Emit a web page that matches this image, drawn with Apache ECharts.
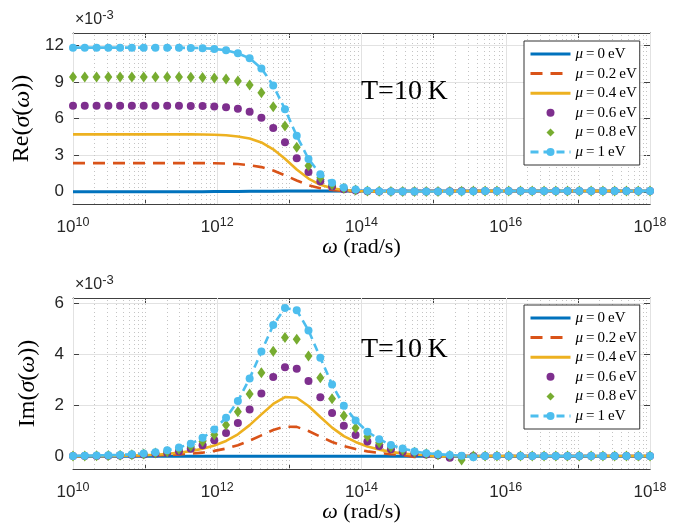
<!DOCTYPE html>
<html><head><meta charset="utf-8">
<script src="https://cdn.jsdelivr.net/npm/echarts@6/dist/echarts.min.js"></script>
<style>html,body{margin:0;padding:0;background:#fff}#c{width:695px;height:531px}</style>
</head><body><div id="c"></div>
<script>
// frequency samples: exponents of omega (rad/s)
const omegaExp = [
10.000,10.163,10.327,10.490,10.653,10.816,10.980,11.143,11.306,11.469,
11.633,11.796,11.959,12.122,12.286,12.449,12.612,12.776,12.939,13.102,
13.265,13.429,13.592,13.755,13.918,14.082,14.245,14.408,14.571,14.735,
14.898,15.061,15.224,15.388,15.551,15.714,15.878,16.041,16.204,16.367,
16.531,16.694,16.857,17.020,17.184,17.347,17.510,17.673,17.837,18.000];

const muLabels = ['μ=0 eV','μ=0.2 eV','μ=0.4 eV','μ=0.6 eV','μ=0.8 eV','μ=1 eV'];

// Re(sigma) x 1e-3
const reMu0 = [
0.01,0.01,0.01,0.01,0.01,0.01,0.01,0.01,0.01,0.01,
0.01,0.01,0.02,0.02,0.03,0.04,0.05,0.05,0.06,0.06,
0.06,0.06,0.06,0.06,0.06,0.06,0.06,0.06,0.06,0.06,
0.06,0.06,0.06,0.06,0.06,0.06,0.06,0.06,0.06,0.06,
0.06,0.06,0.06,0.06,0.06,0.06,0.06,0.06,0.06,0.06];
const reMu02 = [
2.35,2.35,2.35,2.35,2.35,2.35,2.35,2.35,2.35,2.35,
2.35,2.35,2.34,2.31,2.27,2.18,2.02,1.74,1.35,0.92,
0.54,0.29,0.15,0.07,0.04,0.02,0.01,0.01,0.02,0.04,
0.06,0.06,0.06,0.06,0.06,0.06,0.06,0.06,0.06,0.06,
0.06,0.06,0.06,0.06,0.06,0.06,0.06,0.06,0.06,0.06];
const reMu04 = [
4.70,4.70,4.70,4.70,4.70,4.70,4.70,4.70,4.70,4.70,
4.70,4.69,4.67,4.63,4.53,4.37,4.04,3.48,2.70,1.83,
1.08,0.57,0.29,0.15,0.07,0.04,0.02,0.02,0.01,0.01,
0.02,0.04,0.06,0.06,0.06,0.06,0.06,0.06,0.06,0.06,
0.06,0.06,0.06,0.06,0.06,0.06,0.06,0.06,0.06,0.06];
const reMu06 = [
7.05,7.05,7.05,7.05,7.05,7.05,7.05,7.05,7.04,7.04,
7.03,7.02,6.99,6.93,6.80,6.56,6.06,5.23,4.06,2.74,
1.61,0.86,0.44,0.21,0.11,0.05,0.03,0.02,0.02,0.02,
0.02,0.02,0.04,0.06,0.06,0.06,0.06,0.06,0.06,0.06,
0.06,0.06,0.06,0.06,0.06,0.06,0.06,0.06,0.06,0.06];
const reMu08 = [
9.40,9.40,9.40,9.40,9.40,9.40,9.40,9.40,9.39,9.39,
9.38,9.36,9.32,9.24,9.06,8.75,8.10,6.96,5.38,3.65,
2.14,1.14,0.58,0.29,0.14,0.07,0.04,0.03,0.02,0.02,
0.02,0.02,0.02,0.04,0.06,0.06,0.06,0.06,0.06,0.06,
0.06,0.06,0.06,0.06,0.06,0.06,0.06,0.06,0.06,0.06];
const reMu1 = [
11.80,11.80,11.80,11.80,11.80,11.80,11.80,11.80,11.79,11.79,
11.78,11.76,11.70,11.58,11.34,10.93,10.10,8.70,6.76,4.58,
2.69,1.43,0.73,0.36,0.18,0.09,0.05,0.03,0.02,0.02,
0.02,0.02,0.02,0.02,0.04,0.06,0.06,0.06,0.06,0.06,
0.06,0.06,0.06,0.06,0.06,0.06,0.06,0.06,0.06,0.06];

// Im(sigma) x 1e-3
const imMu0 = [
0.00,0.00,0.00,0.00,0.00,0.00,0.00,0.00,0.00,0.00,
0.00,0.00,0.00,0.00,0.00,0.00,0.00,0.00,0.00,0.00,
0.00,0.00,0.00,0.00,0.00,0.00,0.00,0.00,0.00,0.00,
0.00,0.00,0.00,0.00,0.00,0.00,0.00,0.00,0.00,0.00,
0.00,0.00,0.00,0.00,0.00,0.00,0.00,0.00,0.00,0.00];
const imMu02 = [
0.00,0.00,0.01,0.01,0.01,0.01,0.02,0.03,0.05,0.07,
0.10,0.14,0.21,0.30,0.43,0.61,0.82,1.03,1.16,1.15,
0.99,0.77,0.56,0.40,0.28,0.19,0.13,0.08,0.05,-0.03,
0.01,0.01,0.01,0.01,0.01,0.01,0.01,0.01,0.01,0.01,
0.01,0.01,0.01,0.01,0.01,0.01,0.01,0.01,0.01,0.01];
const imMu04 = [
0.00,0.01,0.01,0.01,0.02,0.03,0.04,0.06,0.09,0.14,
0.20,0.29,0.42,0.60,0.86,1.22,1.64,2.05,2.32,2.29,
1.97,1.54,1.12,0.79,0.56,0.38,0.26,0.17,0.11,0.07,
0.04,-0.03,0.01,0.01,0.01,0.01,0.01,0.01,0.01,0.01,
0.01,0.01,0.01,0.01,0.01,0.01,0.01,0.01,0.01,0.01];
const imMu06 = [
0.01,0.01,0.01,0.02,0.03,0.05,0.07,0.10,0.14,0.20,
0.29,0.43,0.63,0.91,1.30,1.83,2.46,3.10,3.49,3.43,
2.95,2.31,1.69,1.19,0.83,0.58,0.40,0.27,0.18,0.12,
0.07,0.04,-0.06,0.01,0.01,0.01,0.01,0.01,0.01,0.01,
0.01,0.01,0.01,0.01,0.01,0.01,0.01,0.01,0.01,0.01];
const imMu08 = [
0.01,0.01,0.02,0.03,0.04,0.06,0.09,0.13,0.18,0.27,
0.39,0.58,0.84,1.22,1.74,2.44,3.27,4.11,4.65,4.58,
3.93,3.08,2.25,1.59,1.11,0.77,0.53,0.36,0.24,0.16,
0.10,0.06,0.03,-0.15,0.01,0.01,0.01,0.01,0.01,0.01,
0.01,0.01,0.01,0.01,0.01,0.01,0.01,0.01,0.01,0.01];
const imMu1 = [
0.01,0.02,0.03,0.04,0.05,0.08,0.11,0.16,0.23,0.34,
0.49,0.72,1.05,1.51,2.16,3.05,4.10,5.14,5.81,5.72,
4.93,3.86,2.81,1.98,1.40,0.96,0.67,0.44,0.30,0.19,
0.12,0.08,0.05,0.02,-0.04,0.01,0.01,0.01,0.01,0.01,
0.01,0.01,0.01,0.01,0.01,0.01,0.01,0.01,0.01,0.01];

// x tick / grid positions (exponents and in-decade multipliers)
const majorTickExps = [10,12,14,16,18];
const minorMultipliers = [1,2,3,4,5,6,7,8,9];
const decadeExps = [10,11,12,13,14,15,16,17];

const reSets = [reMu0, reMu02, reMu04, reMu06, reMu08, reMu1];
const imSets = [imMu0, imMu02, imMu04, imMu06, imMu08, imMu1];

const colors = ['#0072BD','#D95319','#EDB120','#7E2F8E','#77AC30','#4DBEEE'];
const SERIF = '"Liberation Serif", "DejaVu Serif", serif';
const SANS = '"Liberation Sans", Arial, sans-serif';
const AX = '#404040';

function pts(arr){ return omegaExp.map((e,i)=>[Math.pow(10,e), arr[i]]); }

const minorXs = [];
decadeExps.forEach(d => minorMultipliers.forEach(m => {
  if (m === 1 && majorTickExps.indexOf(d) >= 0) return;
  minorXs.push(m * Math.pow(10, d));
}));
const majorXs = majorTickExps.map(e => Math.pow(10, e));

const styles = [
  {symbol:'none', lineStyle:{width:3, color:colors[0], type:'solid'}},
  {symbol:'none', lineStyle:{width:2.6, color:colors[1], type:[12,8]}},
  {symbol:'none', lineStyle:{width:2.6, color:colors[2], type:'solid'}},
  {symbol:'circle', symbolSize:8, lineStyle:{width:0, opacity:0, color:colors[3]}},
  {symbol:'diamond', symbolSize:[8,11], lineStyle:{width:0, opacity:0, color:colors[4]}},
  {symbol:'circle', symbolSize:8, lineStyle:{width:2.6, color:colors[5], type:[8,5]}}
];

function seriesFor(sets, xi, yi){
  const out = [{
    type:'line', xAxisIndex: xi, yAxisIndex: yi, data: [], silent:true, z:1,
    markLine:{ symbol:'none', silent:true, z:1, animation:false, label:{show:false},
      emphasis:{disabled:true},
      data: minorXs.map(v=>({xAxis:v, lineStyle:{type:[1,3], color:'#c4c4c4', width:1}}))
        .concat(majorXs.map(v=>({xAxis:v, lineStyle:{type:'solid', color:'#e2e2e2', width:1}}))) }
  }];
  sets.forEach((arr,k)=>out.push(Object.assign({
    type:'line', name: muLabels[k], xAxisIndex: xi, yAxisIndex: yi,
    data: pts(arr), showSymbol: styles[k].symbol !== 'none', z: 3 + k,
    itemStyle:{color:colors[k], borderWidth:0},
    emphasis:{disabled:true}, silent:true
  }, styles[k])));
  return out;
}

function xAxes(g){
  const base = {type:'log', gridIndex:g, logBase:10, min:1e10, max:1e18};
  return [
    Object.assign({}, base, {
      position:'bottom',
      axisLine:{show:true, onZero:false, lineStyle:{color:AX, width:1}},
      axisTick:{show:true, inside:true, length:5, lineStyle:{color:AX}},
      axisLabel:{margin:12, color:'#262626', fontFamily:SANS, fontSize:17,
        formatter: v => { const e = Math.round(Math.log10(v)); return majorTickExps.indexOf(e) >= 0 ? '10{s|' + e + '}' : ''; },
        rich:{ s:{fontSize:12.5, fontFamily:SANS, color:'#262626', padding:[0,0,9,0]} }},
      splitLine:{show:false},
      name:'{i|ω}{n| (rad/s)}', nameLocation:'middle', nameGap:31,
      nameTextStyle:{color:'#000', rich:{ i:{fontFamily:SERIF, fontStyle:'italic', fontSize:22, color:'#000'}, n:{fontFamily:SERIF, fontSize:22, color:'#000'} }}
    }),
    Object.assign({}, base, {
      position:'top',
      axisLine:{show:true, onZero:false, lineStyle:{color:AX, width:1}},
      axisTick:{show:true, inside:true, length:5, lineStyle:{color:AX}},
      axisLabel:{show:false}, splitLine:{show:false}
    })
  ];
}

function yAxes(g, mn, mx, step, label){
  const base = {type:'value', gridIndex:g, min:mn, max:mx, minInterval:step, maxInterval:step};
  return [
    Object.assign({}, base, {
      position:'left',
      axisLine:{show:true, onZero:false, lineStyle:{color:AX, width:1}},
      axisTick:{show:true, inside:true, length:6, lineStyle:{color:AX}},
      axisLabel:{showMinLabel:false, showMaxLabel:false, margin:9, color:'#262626', fontFamily:SANS, fontSize:17},
      splitLine:{show:true, lineStyle:{color:'#e2e2e2', width:1}},
      name: label, nameLocation:'middle', nameGap:33, nameRotate:90,
      nameTextStyle:{color:'#000', rich:{ i:{fontFamily:SERIF, fontStyle:'italic', fontSize:24, color:'#000'}, n:{fontFamily:SERIF, fontSize:24, color:'#000'} }}
    }),
    Object.assign({}, base, {
      position:'right',
      axisLine:{show:true, onZero:false, lineStyle:{color:AX, width:1}},
      axisTick:{show:true, inside:true, length:6, lineStyle:{color:AX}},
      axisLabel:{show:false}, splitLine:{show:false}
    })
  ];
}

function legendFor(top){
  return {
    data: muLabels.map((n,k) => {
      const item = {name:n, lineStyle:{width: (k === 3 || k === 4) ? 0 : 3, type: styles[k].lineStyle.type, color: colors[k], opacity: (k === 3 || k === 4) ? 0 : 1}};
      if (k < 3) item.itemStyle = {opacity:0};
      return item;
    }),
    orient:'vertical', left:524, top:top,
    padding:[5,3,5,5], itemGap:3.6, itemWidth:40, itemHeight:10,
    backgroundColor:'#fff', borderColor:'#333', borderWidth:1, borderRadius:0,
    selectedMode:false,
    textStyle:{fontFamily:SERIF, fontSize:15, color:'#000', lineHeight:16,
      rich:{ i:{fontFamily:SERIF, fontStyle:'italic', fontSize:15, color:'#000', lineHeight:16} }},
    formatter: n => '{i|μ}' + n.slice(1).replace('=', '\u2009=\u2009').replace(' eV','\u2009eV')
  };
}

const chart = echarts.init(document.getElementById('c'), null, {renderer:'canvas'});
const expLabel = top => ({type:'text', left:75, top:top, z:10, style:{text:'{a|×10}{s|-3}',
  rich:{a:{font:'16px '+SANS, fill:'#262626'}, s:{font:'13px '+SANS, fill:'#262626', padding:[0,0,8,0]}}}});
chart.setOption({
  animation:false,
  backgroundColor:'#fff',
  grid:[
    {left:73, top:33, width:577, height:171},
    {left:73, top:298, width:577, height:171}
  ],
  xAxis: xAxes(0).concat(xAxes(1)),
  yAxis: yAxes(0, -1, 13, 3, '{n|Re(}{i|σ}{n|(}{i|ω}{n|))}')
    .concat(yAxes(1, -0.5, 6.2, 2, '{n|Im(}{i|σ}{n|(}{i|ω}{n|))}')),
  legend:[legendFor(41), legendFor(305)],
  series: seriesFor(reSets, 0, 0).concat(seriesFor(imSets, 2, 2)),
  graphic:[
    expLabel(9), expLabel(274),
    {type:'text', left:361, top:78, z:10, style:{text:'T=10\u2009K', font:'28px '+SERIF, fill:'#000'}},
    {type:'text', left:361, top:336, z:10, style:{text:'T=10\u2009K', font:'28px '+SERIF, fill:'#000'}}
  ]
});
</script></body></html>
